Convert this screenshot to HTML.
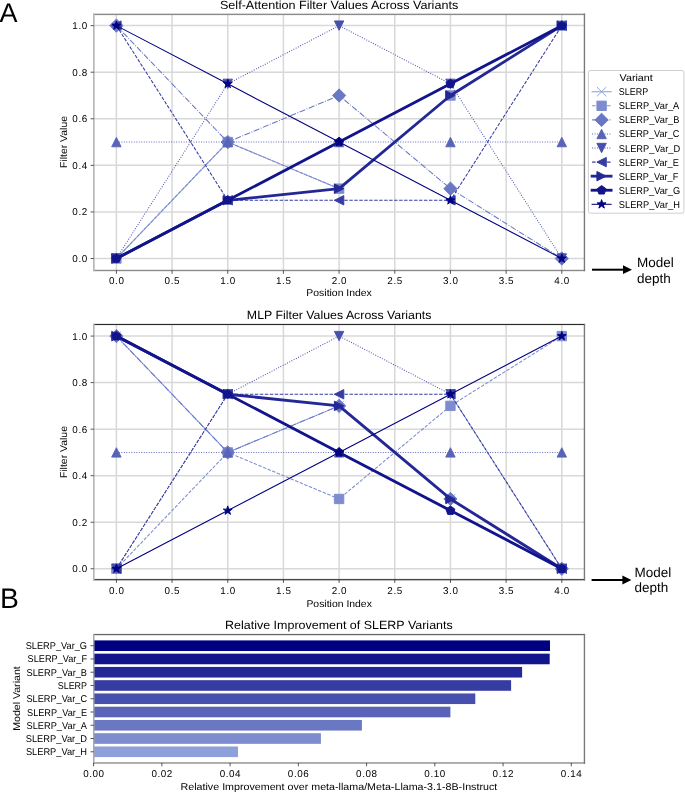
<!DOCTYPE html>
<html><head><meta charset="utf-8"><title>SLERP variants</title>
<style>html,body{margin:0;padding:0;background:#fff;}body{width:685px;height:792px;overflow:hidden;font-family:"Liberation Sans",sans-serif;}svg{display:block;will-change:transform;}</style>
</head><body>
<svg width="685" height="792" viewBox="0 0 685 792" font-family="Liberation Sans, sans-serif" text-rendering="geometricPrecision">
<defs><clipPath id="clip0"><rect x="93.8" y="14" width="490.6" height="256"/></clipPath><clipPath id="clip1"><rect x="93.8" y="324.3" width="490.7" height="255.5"/></clipPath></defs>
<rect width="685" height="792" fill="#fff"/>
<line x1="116.4" y1="14" x2="116.4" y2="270" stroke="#d8d8d8" stroke-width="1.5"/>
<line x1="172.07" y1="14" x2="172.07" y2="270" stroke="#d8d8d8" stroke-width="1.5"/>
<line x1="227.75" y1="14" x2="227.75" y2="270" stroke="#d8d8d8" stroke-width="1.5"/>
<line x1="283.42" y1="14" x2="283.42" y2="270" stroke="#d8d8d8" stroke-width="1.5"/>
<line x1="339.1" y1="14" x2="339.1" y2="270" stroke="#d8d8d8" stroke-width="1.5"/>
<line x1="394.77" y1="14" x2="394.77" y2="270" stroke="#d8d8d8" stroke-width="1.5"/>
<line x1="450.45" y1="14" x2="450.45" y2="270" stroke="#d8d8d8" stroke-width="1.5"/>
<line x1="506.12" y1="14" x2="506.12" y2="270" stroke="#d8d8d8" stroke-width="1.5"/>
<line x1="561.8" y1="14" x2="561.8" y2="270" stroke="#d8d8d8" stroke-width="1.5"/>
<line x1="93.8" y1="258.52" x2="584.4" y2="258.52" stroke="#d8d8d8" stroke-width="1.5"/>
<line x1="93.8" y1="211.94" x2="584.4" y2="211.94" stroke="#d8d8d8" stroke-width="1.5"/>
<line x1="93.8" y1="165.36" x2="584.4" y2="165.36" stroke="#d8d8d8" stroke-width="1.5"/>
<line x1="93.8" y1="118.78" x2="584.4" y2="118.78" stroke="#d8d8d8" stroke-width="1.5"/>
<line x1="93.8" y1="72.2" x2="584.4" y2="72.2" stroke="#d8d8d8" stroke-width="1.5"/>
<line x1="93.8" y1="25.62" x2="584.4" y2="25.62" stroke="#d8d8d8" stroke-width="1.5"/>
<g clip-path="url(#clip0)">
<polyline points="116.4,258.52 227.75,142.07 339.1,188.65 450.45,95.49 561.8,25.62" fill="none" stroke="#8ea0da" stroke-width="1.05" stroke-linejoin="round" stroke-linecap="square"/>
<path d="M111.7 263.22L121.1 253.82M111.7 253.82L121.1 263.22" stroke="#8ea0da" stroke-width="0.94" fill="none"/>
<path d="M223.05 146.77L232.45 137.37M223.05 137.37L232.45 146.77" stroke="#8ea0da" stroke-width="0.94" fill="none"/>
<path d="M334.4 193.35L343.8 183.95M334.4 183.95L343.8 193.35" stroke="#8ea0da" stroke-width="0.94" fill="none"/>
<path d="M445.75 100.19L455.15 90.79M445.75 90.79L455.15 100.19" stroke="#8ea0da" stroke-width="0.94" fill="none"/>
<path d="M557.1 30.32L566.5 20.92M557.1 20.92L566.5 30.32" stroke="#8ea0da" stroke-width="0.94" fill="none"/>
<polyline points="116.4,258.52 227.75,142.07 339.1,188.65 450.45,95.49 561.8,25.62" fill="none" stroke="#7c8ccf" stroke-width="1.05" stroke-linejoin="round" stroke-linecap="butt" stroke-dasharray="3.48,1.5"/>
<polygon points="111.7,263.22 121.1,263.22 121.1,253.82 111.7,253.82" fill="#7c8ccf" stroke="#7c8ccf" stroke-width="0.94" stroke-linejoin="miter"/>
<polygon points="223.05,146.77 232.45,146.77 232.45,137.37 223.05,137.37" fill="#7c8ccf" stroke="#7c8ccf" stroke-width="0.94" stroke-linejoin="miter"/>
<polygon points="334.4,193.35 343.8,193.35 343.8,183.95 334.4,183.95" fill="#7c8ccf" stroke="#7c8ccf" stroke-width="0.94" stroke-linejoin="miter"/>
<polygon points="445.75,100.19 455.15,100.19 455.15,90.79 445.75,90.79" fill="#7c8ccf" stroke="#7c8ccf" stroke-width="0.94" stroke-linejoin="miter"/>
<polygon points="557.1,30.32 566.5,30.32 566.5,20.92 557.1,20.92" fill="#7c8ccf" stroke="#7c8ccf" stroke-width="0.94" stroke-linejoin="miter"/>
<polyline points="116.4,25.62 227.75,142.07 339.1,95.49 450.45,188.65 561.8,258.52" fill="none" stroke="#6a78c4" stroke-width="1.05" stroke-linejoin="round" stroke-linecap="butt" stroke-dasharray="6.02,1.5,0.94,1.5"/>
<polygon points="116.4,32.27 123.05,25.62 116.4,18.97 109.75,25.62" fill="#6a78c4" stroke="#6a78c4" stroke-width="0.94" stroke-linejoin="miter"/>
<polygon points="227.75,148.72 234.4,142.07 227.75,135.42 221.1,142.07" fill="#6a78c4" stroke="#6a78c4" stroke-width="0.94" stroke-linejoin="miter"/>
<polygon points="339.1,102.14 345.75,95.49 339.1,88.84 332.45,95.49" fill="#6a78c4" stroke="#6a78c4" stroke-width="0.94" stroke-linejoin="miter"/>
<polygon points="450.45,195.3 457.1,188.65 450.45,182 443.8,188.65" fill="#6a78c4" stroke="#6a78c4" stroke-width="0.94" stroke-linejoin="miter"/>
<polygon points="561.8,265.17 568.45,258.52 561.8,251.87 555.15,258.52" fill="#6a78c4" stroke="#6a78c4" stroke-width="0.94" stroke-linejoin="miter"/>
<polyline points="116.4,142.07 227.75,142.07 339.1,142.07 450.45,142.07 561.8,142.07" fill="none" stroke="#5964b8" stroke-width="1.05" stroke-linejoin="round" stroke-linecap="butt" stroke-dasharray="0.94,1.55"/>
<polygon points="116.4,137.37 111.7,146.77 121.1,146.77" fill="#5964b8" stroke="#5964b8" stroke-width="0.94" stroke-linejoin="miter"/>
<polygon points="227.75,137.37 223.05,146.77 232.45,146.77" fill="#5964b8" stroke="#5964b8" stroke-width="0.94" stroke-linejoin="miter"/>
<polygon points="339.1,137.37 334.4,146.77 343.8,146.77" fill="#5964b8" stroke="#5964b8" stroke-width="0.94" stroke-linejoin="miter"/>
<polygon points="450.45,137.37 445.75,146.77 455.15,146.77" fill="#5964b8" stroke="#5964b8" stroke-width="0.94" stroke-linejoin="miter"/>
<polygon points="561.8,137.37 557.1,146.77 566.5,146.77" fill="#5964b8" stroke="#5964b8" stroke-width="0.94" stroke-linejoin="miter"/>
<polyline points="116.4,258.52 227.75,83.84 339.1,25.62 450.45,83.84 561.8,258.52" fill="none" stroke="#4750ad" stroke-width="1.05" stroke-linejoin="round" stroke-linecap="butt" stroke-dasharray="0.94,1.55"/>
<polygon points="116.4,263.22 111.7,253.82 121.1,253.82" fill="#4750ad" stroke="#4750ad" stroke-width="0.94" stroke-linejoin="miter"/>
<polygon points="227.75,88.54 223.05,79.14 232.45,79.14" fill="#4750ad" stroke="#4750ad" stroke-width="0.94" stroke-linejoin="miter"/>
<polygon points="339.1,30.32 334.4,20.92 343.8,20.92" fill="#4750ad" stroke="#4750ad" stroke-width="0.94" stroke-linejoin="miter"/>
<polygon points="450.45,88.54 445.75,79.14 455.15,79.14" fill="#4750ad" stroke="#4750ad" stroke-width="0.94" stroke-linejoin="miter"/>
<polygon points="561.8,263.22 557.1,253.82 566.5,253.82" fill="#4750ad" stroke="#4750ad" stroke-width="0.94" stroke-linejoin="miter"/>
<polyline points="116.4,25.62 227.75,200.29 339.1,200.29 450.45,200.29 561.8,25.62" fill="none" stroke="#353ca2" stroke-width="1.05" stroke-linejoin="round" stroke-linecap="butt" stroke-dasharray="3.48,1.5"/>
<polygon points="111.7,25.62 121.1,30.32 121.1,20.92" fill="#353ca2" stroke="#353ca2" stroke-width="0.94" stroke-linejoin="miter"/>
<polygon points="223.05,200.29 232.45,204.99 232.45,195.59" fill="#353ca2" stroke="#353ca2" stroke-width="0.94" stroke-linejoin="miter"/>
<polygon points="334.4,200.29 343.8,204.99 343.8,195.59" fill="#353ca2" stroke="#353ca2" stroke-width="0.94" stroke-linejoin="miter"/>
<polygon points="445.75,200.29 455.15,204.99 455.15,195.59" fill="#353ca2" stroke="#353ca2" stroke-width="0.94" stroke-linejoin="miter"/>
<polygon points="557.1,25.62 566.5,30.32 566.5,20.92" fill="#353ca2" stroke="#353ca2" stroke-width="0.94" stroke-linejoin="miter"/>
<polyline points="116.4,258.52 227.75,200.29 339.1,188.65 450.45,95.49 561.8,25.62" fill="none" stroke="#242896" stroke-width="2.82" stroke-linejoin="round" stroke-linecap="square"/>
<polygon points="121.1,258.52 111.7,253.82 111.7,263.22" fill="#242896" stroke="#242896" stroke-width="0.94" stroke-linejoin="miter"/>
<polygon points="232.45,200.29 223.05,195.59 223.05,204.99" fill="#242896" stroke="#242896" stroke-width="0.94" stroke-linejoin="miter"/>
<polygon points="343.8,188.65 334.4,183.95 334.4,193.35" fill="#242896" stroke="#242896" stroke-width="0.94" stroke-linejoin="miter"/>
<polygon points="455.15,95.49 445.75,90.79 445.75,100.19" fill="#242896" stroke="#242896" stroke-width="0.94" stroke-linejoin="miter"/>
<polygon points="566.5,25.62 557.1,20.92 557.1,30.32" fill="#242896" stroke="#242896" stroke-width="0.94" stroke-linejoin="miter"/>
<polyline points="116.4,258.52 227.75,200.29 339.1,142.07 450.45,83.84 561.8,25.62" fill="none" stroke="#12148b" stroke-width="2.82" stroke-linejoin="round" stroke-linecap="square"/>
<polygon points="116.4,253.82 111.93,257.07 113.64,262.32 119.16,262.32 120.87,257.07" fill="#12148b" stroke="#12148b" stroke-width="0.94" stroke-linejoin="miter"/>
<polygon points="227.75,195.59 223.28,198.84 224.99,204.1 230.51,204.1 232.22,198.84" fill="#12148b" stroke="#12148b" stroke-width="0.94" stroke-linejoin="miter"/>
<polygon points="339.1,137.37 334.63,140.62 336.34,145.87 341.86,145.87 343.57,140.62" fill="#12148b" stroke="#12148b" stroke-width="0.94" stroke-linejoin="miter"/>
<polygon points="450.45,79.14 445.98,82.39 447.69,87.65 453.21,87.65 454.92,82.39" fill="#12148b" stroke="#12148b" stroke-width="0.94" stroke-linejoin="miter"/>
<polygon points="561.8,20.92 557.33,24.17 559.04,29.42 564.56,29.42 566.27,24.17" fill="#12148b" stroke="#12148b" stroke-width="0.94" stroke-linejoin="miter"/>
<polyline points="116.4,25.62 227.75,83.84 339.1,142.07 450.45,200.29 561.8,258.52" fill="none" stroke="#000080" stroke-width="1.05" stroke-linejoin="round" stroke-linecap="square"/>
<polygon points="116.4,20.92 115.34,24.17 111.93,24.17 114.69,26.17 113.64,29.42 116.4,27.42 119.16,29.42 118.11,26.17 120.87,24.17 117.46,24.17" fill="#000080" stroke="#000080" stroke-width="0.94" stroke-linejoin="miter"/>
<polygon points="227.75,79.14 226.69,82.39 223.28,82.39 226.04,84.4 224.99,87.65 227.75,85.64 230.51,87.65 229.46,84.4 232.22,82.39 228.81,82.39" fill="#000080" stroke="#000080" stroke-width="0.94" stroke-linejoin="miter"/>
<polygon points="339.1,137.37 338.04,140.62 334.63,140.62 337.39,142.62 336.34,145.87 339.1,143.87 341.86,145.87 340.81,142.62 343.57,140.62 340.16,140.62" fill="#000080" stroke="#000080" stroke-width="0.94" stroke-linejoin="miter"/>
<polygon points="450.45,195.59 449.39,198.84 445.98,198.84 448.74,200.85 447.69,204.1 450.45,202.09 453.21,204.1 452.16,200.85 454.92,198.84 451.51,198.84" fill="#000080" stroke="#000080" stroke-width="0.94" stroke-linejoin="miter"/>
<polygon points="561.8,253.82 560.74,257.07 557.33,257.07 560.09,259.07 559.04,262.32 561.8,260.32 564.56,262.32 563.51,259.07 566.27,257.07 562.86,257.07" fill="#000080" stroke="#000080" stroke-width="0.94" stroke-linejoin="miter"/>
</g>
<rect x="93" y="13.67" width="492.1" height="1.42" fill="#8a8a8a"/>
<rect x="93" y="269.79" width="492.1" height="1.38" fill="#8a8a8a"/>
<rect x="93" y="13.6" width="1.68" height="257.6" fill="#b8b8b8"/>
<rect x="583.75" y="13.6" width="1.37" height="257.6" fill="#787878"/>
<line x1="116.4" y1="270.48" x2="116.4" y2="273.77" stroke="#222" stroke-width="0.75"/>
<text x="116.4" y="283.65" font-size="9.87" text-anchor="middle" textLength="14.95" lengthAdjust="spacing" fill="#000">0.0</text>
<line x1="172.07" y1="270.48" x2="172.07" y2="273.77" stroke="#222" stroke-width="0.75"/>
<text x="172.07" y="283.65" font-size="9.87" text-anchor="middle" textLength="14.95" lengthAdjust="spacing" fill="#000">0.5</text>
<line x1="227.75" y1="270.48" x2="227.75" y2="273.77" stroke="#222" stroke-width="0.75"/>
<text x="227.75" y="283.65" font-size="9.87" text-anchor="middle" textLength="14.95" lengthAdjust="spacing" fill="#000">1.0</text>
<line x1="283.42" y1="270.48" x2="283.42" y2="273.77" stroke="#222" stroke-width="0.75"/>
<text x="283.42" y="283.65" font-size="9.87" text-anchor="middle" textLength="14.95" lengthAdjust="spacing" fill="#000">1.5</text>
<line x1="339.1" y1="270.48" x2="339.1" y2="273.77" stroke="#222" stroke-width="0.75"/>
<text x="339.1" y="283.65" font-size="9.87" text-anchor="middle" textLength="14.95" lengthAdjust="spacing" fill="#000">2.0</text>
<line x1="394.77" y1="270.48" x2="394.77" y2="273.77" stroke="#222" stroke-width="0.75"/>
<text x="394.77" y="283.65" font-size="9.87" text-anchor="middle" textLength="14.95" lengthAdjust="spacing" fill="#000">2.5</text>
<line x1="450.45" y1="270.48" x2="450.45" y2="273.77" stroke="#222" stroke-width="0.75"/>
<text x="450.45" y="283.65" font-size="9.87" text-anchor="middle" textLength="14.95" lengthAdjust="spacing" fill="#000">3.0</text>
<line x1="506.12" y1="270.48" x2="506.12" y2="273.77" stroke="#222" stroke-width="0.75"/>
<text x="506.12" y="283.65" font-size="9.87" text-anchor="middle" textLength="14.95" lengthAdjust="spacing" fill="#000">3.5</text>
<line x1="561.8" y1="270.48" x2="561.8" y2="273.77" stroke="#222" stroke-width="0.75"/>
<text x="561.8" y="283.65" font-size="9.87" text-anchor="middle" textLength="14.95" lengthAdjust="spacing" fill="#000">4.0</text>
<line x1="90.55" y1="258.52" x2="93.84" y2="258.52" stroke="#222" stroke-width="0.75"/>
<text x="87.25" y="262.02" font-size="9.87" text-anchor="end" textLength="14.95" lengthAdjust="spacing" fill="#000">0.0</text>
<line x1="90.55" y1="211.94" x2="93.84" y2="211.94" stroke="#222" stroke-width="0.75"/>
<text x="87.25" y="215.44" font-size="9.87" text-anchor="end" textLength="14.95" lengthAdjust="spacing" fill="#000">0.2</text>
<line x1="90.55" y1="165.36" x2="93.84" y2="165.36" stroke="#222" stroke-width="0.75"/>
<text x="87.25" y="168.86" font-size="9.87" text-anchor="end" textLength="14.95" lengthAdjust="spacing" fill="#000">0.4</text>
<line x1="90.55" y1="118.78" x2="93.84" y2="118.78" stroke="#222" stroke-width="0.75"/>
<text x="87.25" y="122.28" font-size="9.87" text-anchor="end" textLength="14.95" lengthAdjust="spacing" fill="#000">0.6</text>
<line x1="90.55" y1="72.2" x2="93.84" y2="72.2" stroke="#222" stroke-width="0.75"/>
<text x="87.25" y="75.7" font-size="9.87" text-anchor="end" textLength="14.95" lengthAdjust="spacing" fill="#000">0.8</text>
<line x1="90.55" y1="25.62" x2="93.84" y2="25.62" stroke="#222" stroke-width="0.75"/>
<text x="87.25" y="29.12" font-size="9.87" text-anchor="end" textLength="14.95" lengthAdjust="spacing" fill="#000">1.0</text>
<text x="339.1" y="9" font-size="11.84" text-anchor="middle" textLength="238.25" lengthAdjust="spacingAndGlyphs" fill="#000">Self-Attention Filter Values Across Variants</text>
<text x="339.1" y="296.3" font-size="9.87" text-anchor="middle" textLength="65.47" lengthAdjust="spacingAndGlyphs" fill="#000">Position Index</text>
<text x="67" y="142" font-size="9.87" text-anchor="middle" textLength="52.08" lengthAdjust="spacingAndGlyphs" transform="rotate(-90 67 142)" fill="#000">Filter Value</text>
<line x1="116.4" y1="324.3" x2="116.4" y2="579.8" stroke="#d8d8d8" stroke-width="1.5"/>
<line x1="172.07" y1="324.3" x2="172.07" y2="579.8" stroke="#d8d8d8" stroke-width="1.5"/>
<line x1="227.75" y1="324.3" x2="227.75" y2="579.8" stroke="#d8d8d8" stroke-width="1.5"/>
<line x1="283.42" y1="324.3" x2="283.42" y2="579.8" stroke="#d8d8d8" stroke-width="1.5"/>
<line x1="339.1" y1="324.3" x2="339.1" y2="579.8" stroke="#d8d8d8" stroke-width="1.5"/>
<line x1="394.77" y1="324.3" x2="394.77" y2="579.8" stroke="#d8d8d8" stroke-width="1.5"/>
<line x1="450.45" y1="324.3" x2="450.45" y2="579.8" stroke="#d8d8d8" stroke-width="1.5"/>
<line x1="506.12" y1="324.3" x2="506.12" y2="579.8" stroke="#d8d8d8" stroke-width="1.5"/>
<line x1="561.8" y1="324.3" x2="561.8" y2="579.8" stroke="#d8d8d8" stroke-width="1.5"/>
<line x1="93.8" y1="568.75" x2="584.5" y2="568.75" stroke="#d8d8d8" stroke-width="1.5"/>
<line x1="93.8" y1="522.22" x2="584.5" y2="522.22" stroke="#d8d8d8" stroke-width="1.5"/>
<line x1="93.8" y1="475.68" x2="584.5" y2="475.68" stroke="#d8d8d8" stroke-width="1.5"/>
<line x1="93.8" y1="429.15" x2="584.5" y2="429.15" stroke="#d8d8d8" stroke-width="1.5"/>
<line x1="93.8" y1="382.61" x2="584.5" y2="382.61" stroke="#d8d8d8" stroke-width="1.5"/>
<line x1="93.8" y1="336.08" x2="584.5" y2="336.08" stroke="#d8d8d8" stroke-width="1.5"/>
<g clip-path="url(#clip1)">
<polyline points="116.4,336.08 227.75,452.42 339.1,405.88 450.45,498.95 561.8,568.75" fill="none" stroke="#8ea0da" stroke-width="1.05" stroke-linejoin="round" stroke-linecap="square"/>
<path d="M111.7 340.78L121.1 331.38M111.7 331.38L121.1 340.78" stroke="#8ea0da" stroke-width="0.94" fill="none"/>
<path d="M223.05 457.12L232.45 447.72M223.05 447.72L232.45 457.12" stroke="#8ea0da" stroke-width="0.94" fill="none"/>
<path d="M334.4 410.58L343.8 401.18M334.4 401.18L343.8 410.58" stroke="#8ea0da" stroke-width="0.94" fill="none"/>
<path d="M445.75 503.65L455.15 494.25M445.75 494.25L455.15 503.65" stroke="#8ea0da" stroke-width="0.94" fill="none"/>
<path d="M557.1 573.45L566.5 564.05M557.1 564.05L566.5 573.45" stroke="#8ea0da" stroke-width="0.94" fill="none"/>
<polyline points="116.4,568.75 227.75,452.42 339.1,498.95 450.45,405.88 561.8,336.08" fill="none" stroke="#7c8ccf" stroke-width="1.05" stroke-linejoin="round" stroke-linecap="butt" stroke-dasharray="3.48,1.5"/>
<polygon points="111.7,573.45 121.1,573.45 121.1,564.05 111.7,564.05" fill="#7c8ccf" stroke="#7c8ccf" stroke-width="0.94" stroke-linejoin="miter"/>
<polygon points="223.05,457.12 232.45,457.12 232.45,447.72 223.05,447.72" fill="#7c8ccf" stroke="#7c8ccf" stroke-width="0.94" stroke-linejoin="miter"/>
<polygon points="334.4,503.65 343.8,503.65 343.8,494.25 334.4,494.25" fill="#7c8ccf" stroke="#7c8ccf" stroke-width="0.94" stroke-linejoin="miter"/>
<polygon points="445.75,410.58 455.15,410.58 455.15,401.18 445.75,401.18" fill="#7c8ccf" stroke="#7c8ccf" stroke-width="0.94" stroke-linejoin="miter"/>
<polygon points="557.1,340.78 566.5,340.78 566.5,331.38 557.1,331.38" fill="#7c8ccf" stroke="#7c8ccf" stroke-width="0.94" stroke-linejoin="miter"/>
<polyline points="116.4,336.08 227.75,452.42 339.1,405.88 450.45,498.95 561.8,568.75" fill="none" stroke="#6a78c4" stroke-width="1.05" stroke-linejoin="round" stroke-linecap="butt" stroke-dasharray="6.02,1.5,0.94,1.5"/>
<polygon points="116.4,342.73 123.05,336.08 116.4,329.43 109.75,336.08" fill="#6a78c4" stroke="#6a78c4" stroke-width="0.94" stroke-linejoin="miter"/>
<polygon points="227.75,459.06 234.4,452.42 227.75,445.77 221.1,452.42" fill="#6a78c4" stroke="#6a78c4" stroke-width="0.94" stroke-linejoin="miter"/>
<polygon points="339.1,412.53 345.75,405.88 339.1,399.23 332.45,405.88" fill="#6a78c4" stroke="#6a78c4" stroke-width="0.94" stroke-linejoin="miter"/>
<polygon points="450.45,505.6 457.1,498.95 450.45,492.3 443.8,498.95" fill="#6a78c4" stroke="#6a78c4" stroke-width="0.94" stroke-linejoin="miter"/>
<polygon points="561.8,575.4 568.45,568.75 561.8,562.1 555.15,568.75" fill="#6a78c4" stroke="#6a78c4" stroke-width="0.94" stroke-linejoin="miter"/>
<polyline points="116.4,452.42 227.75,452.42 339.1,452.42 450.45,452.42 561.8,452.42" fill="none" stroke="#5964b8" stroke-width="1.05" stroke-linejoin="round" stroke-linecap="butt" stroke-dasharray="0.94,1.55"/>
<polygon points="116.4,447.72 111.7,457.12 121.1,457.12" fill="#5964b8" stroke="#5964b8" stroke-width="0.94" stroke-linejoin="miter"/>
<polygon points="227.75,447.72 223.05,457.12 232.45,457.12" fill="#5964b8" stroke="#5964b8" stroke-width="0.94" stroke-linejoin="miter"/>
<polygon points="339.1,447.72 334.4,457.12 343.8,457.12" fill="#5964b8" stroke="#5964b8" stroke-width="0.94" stroke-linejoin="miter"/>
<polygon points="450.45,447.72 445.75,457.12 455.15,457.12" fill="#5964b8" stroke="#5964b8" stroke-width="0.94" stroke-linejoin="miter"/>
<polygon points="561.8,447.72 557.1,457.12 566.5,457.12" fill="#5964b8" stroke="#5964b8" stroke-width="0.94" stroke-linejoin="miter"/>
<polyline points="116.4,568.75 227.75,394.25 339.1,336.08 450.45,394.25 561.8,568.75" fill="none" stroke="#4750ad" stroke-width="1.05" stroke-linejoin="round" stroke-linecap="butt" stroke-dasharray="0.94,1.55"/>
<polygon points="116.4,573.45 111.7,564.05 121.1,564.05" fill="#4750ad" stroke="#4750ad" stroke-width="0.94" stroke-linejoin="miter"/>
<polygon points="227.75,398.95 223.05,389.55 232.45,389.55" fill="#4750ad" stroke="#4750ad" stroke-width="0.94" stroke-linejoin="miter"/>
<polygon points="339.1,340.78 334.4,331.38 343.8,331.38" fill="#4750ad" stroke="#4750ad" stroke-width="0.94" stroke-linejoin="miter"/>
<polygon points="450.45,398.95 445.75,389.55 455.15,389.55" fill="#4750ad" stroke="#4750ad" stroke-width="0.94" stroke-linejoin="miter"/>
<polygon points="561.8,573.45 557.1,564.05 566.5,564.05" fill="#4750ad" stroke="#4750ad" stroke-width="0.94" stroke-linejoin="miter"/>
<polyline points="116.4,568.75 227.75,394.25 339.1,394.25 450.45,394.25 561.8,568.75" fill="none" stroke="#353ca2" stroke-width="1.05" stroke-linejoin="round" stroke-linecap="butt" stroke-dasharray="3.48,1.5"/>
<polygon points="111.7,568.75 121.1,573.45 121.1,564.05" fill="#353ca2" stroke="#353ca2" stroke-width="0.94" stroke-linejoin="miter"/>
<polygon points="223.05,394.25 232.45,398.95 232.45,389.55" fill="#353ca2" stroke="#353ca2" stroke-width="0.94" stroke-linejoin="miter"/>
<polygon points="334.4,394.25 343.8,398.95 343.8,389.55" fill="#353ca2" stroke="#353ca2" stroke-width="0.94" stroke-linejoin="miter"/>
<polygon points="445.75,394.25 455.15,398.95 455.15,389.55" fill="#353ca2" stroke="#353ca2" stroke-width="0.94" stroke-linejoin="miter"/>
<polygon points="557.1,568.75 566.5,573.45 566.5,564.05" fill="#353ca2" stroke="#353ca2" stroke-width="0.94" stroke-linejoin="miter"/>
<polyline points="116.4,336.08 227.75,394.25 339.1,405.88 450.45,498.95 561.8,568.75" fill="none" stroke="#242896" stroke-width="2.82" stroke-linejoin="round" stroke-linecap="square"/>
<polygon points="121.1,336.08 111.7,331.38 111.7,340.78" fill="#242896" stroke="#242896" stroke-width="0.94" stroke-linejoin="miter"/>
<polygon points="232.45,394.25 223.05,389.55 223.05,398.95" fill="#242896" stroke="#242896" stroke-width="0.94" stroke-linejoin="miter"/>
<polygon points="343.8,405.88 334.4,401.18 334.4,410.58" fill="#242896" stroke="#242896" stroke-width="0.94" stroke-linejoin="miter"/>
<polygon points="455.15,498.95 445.75,494.25 445.75,503.65" fill="#242896" stroke="#242896" stroke-width="0.94" stroke-linejoin="miter"/>
<polygon points="566.5,568.75 557.1,564.05 557.1,573.45" fill="#242896" stroke="#242896" stroke-width="0.94" stroke-linejoin="miter"/>
<polyline points="116.4,336.08 227.75,394.25 339.1,452.42 450.45,510.58 561.8,568.75" fill="none" stroke="#12148b" stroke-width="2.82" stroke-linejoin="round" stroke-linecap="square"/>
<polygon points="116.4,331.38 111.93,334.63 113.64,339.88 119.16,339.88 120.87,334.63" fill="#12148b" stroke="#12148b" stroke-width="0.94" stroke-linejoin="miter"/>
<polygon points="227.75,389.55 223.28,392.8 224.99,398.05 230.51,398.05 232.22,392.8" fill="#12148b" stroke="#12148b" stroke-width="0.94" stroke-linejoin="miter"/>
<polygon points="339.1,447.72 334.63,450.96 336.34,456.22 341.86,456.22 343.57,450.96" fill="#12148b" stroke="#12148b" stroke-width="0.94" stroke-linejoin="miter"/>
<polygon points="450.45,505.88 445.98,509.13 447.69,514.38 453.21,514.38 454.92,509.13" fill="#12148b" stroke="#12148b" stroke-width="0.94" stroke-linejoin="miter"/>
<polygon points="561.8,564.05 557.33,567.3 559.04,572.55 564.56,572.55 566.27,567.3" fill="#12148b" stroke="#12148b" stroke-width="0.94" stroke-linejoin="miter"/>
<polyline points="116.4,568.75 227.75,510.58 339.1,452.42 450.45,394.25 561.8,336.08" fill="none" stroke="#000080" stroke-width="1.05" stroke-linejoin="round" stroke-linecap="square"/>
<polygon points="116.4,564.05 115.34,567.3 111.93,567.3 114.69,569.3 113.64,572.55 116.4,570.55 119.16,572.55 118.11,569.3 120.87,567.3 117.46,567.3" fill="#000080" stroke="#000080" stroke-width="0.94" stroke-linejoin="miter"/>
<polygon points="227.75,505.88 226.69,509.13 223.28,509.13 226.04,511.14 224.99,514.38 227.75,512.38 230.51,514.38 229.46,511.14 232.22,509.13 228.81,509.13" fill="#000080" stroke="#000080" stroke-width="0.94" stroke-linejoin="miter"/>
<polygon points="339.1,447.72 338.04,450.96 334.63,450.96 337.39,452.97 336.34,456.22 339.1,454.21 341.86,456.22 340.81,452.97 343.57,450.96 340.16,450.96" fill="#000080" stroke="#000080" stroke-width="0.94" stroke-linejoin="miter"/>
<polygon points="450.45,389.55 449.39,392.8 445.98,392.8 448.74,394.8 447.69,398.05 450.45,396.04 453.21,398.05 452.16,394.8 454.92,392.8 451.51,392.8" fill="#000080" stroke="#000080" stroke-width="0.94" stroke-linejoin="miter"/>
<polygon points="561.8,331.38 560.74,334.63 557.33,334.63 560.09,336.63 559.04,339.88 561.8,337.88 564.56,339.88 563.51,336.63 566.27,334.63 562.86,334.63" fill="#000080" stroke="#000080" stroke-width="0.94" stroke-linejoin="miter"/>
</g>
<rect x="93" y="323.89" width="492.1" height="1.18" fill="#2a2a2a"/>
<rect x="93" y="578.92" width="492.1" height="1.44" fill="#484848"/>
<rect x="93" y="323.8" width="1.68" height="256.6" fill="#b8b8b8"/>
<rect x="583.75" y="323.8" width="1.37" height="256.6" fill="#787878"/>
<line x1="116.4" y1="579.64" x2="116.4" y2="582.93" stroke="#222" stroke-width="0.75"/>
<text x="116.4" y="593.95" font-size="9.87" text-anchor="middle" textLength="14.95" lengthAdjust="spacing" fill="#000">0.0</text>
<line x1="172.07" y1="579.64" x2="172.07" y2="582.93" stroke="#222" stroke-width="0.75"/>
<text x="172.07" y="593.95" font-size="9.87" text-anchor="middle" textLength="14.95" lengthAdjust="spacing" fill="#000">0.5</text>
<line x1="227.75" y1="579.64" x2="227.75" y2="582.93" stroke="#222" stroke-width="0.75"/>
<text x="227.75" y="593.95" font-size="9.87" text-anchor="middle" textLength="14.95" lengthAdjust="spacing" fill="#000">1.0</text>
<line x1="283.42" y1="579.64" x2="283.42" y2="582.93" stroke="#222" stroke-width="0.75"/>
<text x="283.42" y="593.95" font-size="9.87" text-anchor="middle" textLength="14.95" lengthAdjust="spacing" fill="#000">1.5</text>
<line x1="339.1" y1="579.64" x2="339.1" y2="582.93" stroke="#222" stroke-width="0.75"/>
<text x="339.1" y="593.95" font-size="9.87" text-anchor="middle" textLength="14.95" lengthAdjust="spacing" fill="#000">2.0</text>
<line x1="394.77" y1="579.64" x2="394.77" y2="582.93" stroke="#222" stroke-width="0.75"/>
<text x="394.77" y="593.95" font-size="9.87" text-anchor="middle" textLength="14.95" lengthAdjust="spacing" fill="#000">2.5</text>
<line x1="450.45" y1="579.64" x2="450.45" y2="582.93" stroke="#222" stroke-width="0.75"/>
<text x="450.45" y="593.95" font-size="9.87" text-anchor="middle" textLength="14.95" lengthAdjust="spacing" fill="#000">3.0</text>
<line x1="506.12" y1="579.64" x2="506.12" y2="582.93" stroke="#222" stroke-width="0.75"/>
<text x="506.12" y="593.95" font-size="9.87" text-anchor="middle" textLength="14.95" lengthAdjust="spacing" fill="#000">3.5</text>
<line x1="561.8" y1="579.64" x2="561.8" y2="582.93" stroke="#222" stroke-width="0.75"/>
<text x="561.8" y="593.95" font-size="9.87" text-anchor="middle" textLength="14.95" lengthAdjust="spacing" fill="#000">4.0</text>
<line x1="90.55" y1="568.75" x2="93.84" y2="568.75" stroke="#222" stroke-width="0.75"/>
<text x="87.25" y="572.25" font-size="9.87" text-anchor="end" textLength="14.95" lengthAdjust="spacing" fill="#000">0.0</text>
<line x1="90.55" y1="522.22" x2="93.84" y2="522.22" stroke="#222" stroke-width="0.75"/>
<text x="87.25" y="525.72" font-size="9.87" text-anchor="end" textLength="14.95" lengthAdjust="spacing" fill="#000">0.2</text>
<line x1="90.55" y1="475.68" x2="93.84" y2="475.68" stroke="#222" stroke-width="0.75"/>
<text x="87.25" y="479.18" font-size="9.87" text-anchor="end" textLength="14.95" lengthAdjust="spacing" fill="#000">0.4</text>
<line x1="90.55" y1="429.15" x2="93.84" y2="429.15" stroke="#222" stroke-width="0.75"/>
<text x="87.25" y="432.65" font-size="9.87" text-anchor="end" textLength="14.95" lengthAdjust="spacing" fill="#000">0.6</text>
<line x1="90.55" y1="382.61" x2="93.84" y2="382.61" stroke="#222" stroke-width="0.75"/>
<text x="87.25" y="386.11" font-size="9.87" text-anchor="end" textLength="14.95" lengthAdjust="spacing" fill="#000">0.8</text>
<line x1="90.55" y1="336.08" x2="93.84" y2="336.08" stroke="#222" stroke-width="0.75"/>
<text x="87.25" y="339.58" font-size="9.87" text-anchor="end" textLength="14.95" lengthAdjust="spacing" fill="#000">1.0</text>
<text x="339.15" y="318.7" font-size="11.84" text-anchor="middle" textLength="184.6" lengthAdjust="spacingAndGlyphs" fill="#000">MLP Filter Values Across Variants</text>
<text x="339.15" y="606.6" font-size="9.87" text-anchor="middle" textLength="65.47" lengthAdjust="spacingAndGlyphs" fill="#000">Position Index</text>
<text x="67" y="452.05" font-size="9.87" text-anchor="middle" textLength="52.08" lengthAdjust="spacingAndGlyphs" transform="rotate(-90 67 452.05)" fill="#000">Filter Value</text>
<rect x="588.4" y="70.5" width="95.55" height="142.7" rx="1.9" ry="1.9" fill="#fff" fill-opacity="0.8" stroke="#cccccc" stroke-width="0.94"/>
<text x="636.17" y="81.18" font-size="9.87" text-anchor="middle" textLength="33.34" lengthAdjust="spacingAndGlyphs" fill="#000">Variant</text>
<polyline points="592.1,91.75 611.1,91.75" fill="none" stroke="#8ea0da" stroke-width="1.05" stroke-linejoin="round" stroke-linecap="square"/>
<path d="M596.9 96.45L606.3 87.05M596.9 87.05L606.3 96.45" stroke="#8ea0da" stroke-width="0.94" fill="none"/>
<text x="618.8" y="95.25" font-size="9.87" text-anchor="start" textLength="29.34" lengthAdjust="spacingAndGlyphs" fill="#000">SLERP</text>
<polyline points="592.1,105.82 611.1,105.82" fill="none" stroke="#7c8ccf" stroke-width="1.05" stroke-linejoin="round" stroke-linecap="butt" stroke-dasharray="3.48,1.5"/>
<polygon points="596.9,110.52 606.3,110.52 606.3,101.12 596.9,101.12" fill="#7c8ccf" stroke="#7c8ccf" stroke-width="0.94" stroke-linejoin="miter"/>
<text x="618.8" y="109.32" font-size="9.87" text-anchor="start" textLength="60.5" lengthAdjust="spacingAndGlyphs" fill="#000">SLERP_Var_A</text>
<polyline points="592.1,119.89 611.1,119.89" fill="none" stroke="#6a78c4" stroke-width="1.05" stroke-linejoin="round" stroke-linecap="butt" stroke-dasharray="6.02,1.5,0.94,1.5"/>
<polygon points="601.6,126.54 608.25,119.89 601.6,113.24 594.95,119.89" fill="#6a78c4" stroke="#6a78c4" stroke-width="0.94" stroke-linejoin="miter"/>
<text x="618.8" y="123.39" font-size="9.87" text-anchor="start" textLength="60.52" lengthAdjust="spacingAndGlyphs" fill="#000">SLERP_Var_B</text>
<polyline points="592.1,133.96 611.1,133.96" fill="none" stroke="#5964b8" stroke-width="1.05" stroke-linejoin="round" stroke-linecap="butt" stroke-dasharray="0.94,1.55"/>
<polygon points="601.6,129.26 596.9,138.66 606.3,138.66" fill="#5964b8" stroke="#5964b8" stroke-width="0.94" stroke-linejoin="miter"/>
<text x="618.8" y="137.46" font-size="9.87" text-anchor="start" textLength="60.63" lengthAdjust="spacingAndGlyphs" fill="#000">SLERP_Var_C</text>
<polyline points="592.1,148.03 611.1,148.03" fill="none" stroke="#4750ad" stroke-width="1.05" stroke-linejoin="round" stroke-linecap="butt" stroke-dasharray="0.94,1.55"/>
<polygon points="601.6,152.73 596.9,143.33 606.3,143.33" fill="#4750ad" stroke="#4750ad" stroke-width="0.94" stroke-linejoin="miter"/>
<text x="618.8" y="151.53" font-size="9.87" text-anchor="start" textLength="61.31" lengthAdjust="spacingAndGlyphs" fill="#000">SLERP_Var_D</text>
<polyline points="592.1,162.1 611.1,162.1" fill="none" stroke="#353ca2" stroke-width="1.05" stroke-linejoin="round" stroke-linecap="butt" stroke-dasharray="3.48,1.5"/>
<polygon points="596.9,162.1 606.3,166.8 606.3,157.4" fill="#353ca2" stroke="#353ca2" stroke-width="0.94" stroke-linejoin="miter"/>
<text x="618.8" y="165.6" font-size="9.87" text-anchor="start" textLength="60.01" lengthAdjust="spacingAndGlyphs" fill="#000">SLERP_Var_E</text>
<polyline points="592.1,176.17 611.1,176.17" fill="none" stroke="#242896" stroke-width="2.82" stroke-linejoin="round" stroke-linecap="square"/>
<polygon points="606.3,176.17 596.9,171.47 596.9,180.87" fill="#242896" stroke="#242896" stroke-width="0.94" stroke-linejoin="miter"/>
<text x="618.8" y="179.67" font-size="9.87" text-anchor="start" textLength="59.48" lengthAdjust="spacingAndGlyphs" fill="#000">SLERP_Var_F</text>
<polyline points="592.1,190.24 611.1,190.24" fill="none" stroke="#12148b" stroke-width="2.82" stroke-linejoin="round" stroke-linecap="square"/>
<polygon points="601.6,185.54 597.13,188.79 598.84,194.04 604.36,194.04 606.07,188.79" fill="#12148b" stroke="#12148b" stroke-width="0.94" stroke-linejoin="miter"/>
<text x="618.8" y="193.74" font-size="9.87" text-anchor="start" textLength="61.35" lengthAdjust="spacingAndGlyphs" fill="#000">SLERP_Var_G</text>
<polyline points="592.1,204.31 611.1,204.31" fill="none" stroke="#000080" stroke-width="1.05" stroke-linejoin="round" stroke-linecap="square"/>
<polygon points="601.6,199.61 600.54,202.86 597.13,202.86 599.89,204.86 598.84,208.11 601.6,206.11 604.36,208.11 603.31,204.86 606.07,202.86 602.66,202.86" fill="#000080" stroke="#000080" stroke-width="0.94" stroke-linejoin="miter"/>
<text x="618.8" y="207.81" font-size="9.87" text-anchor="start" textLength="61.14" lengthAdjust="spacingAndGlyphs" fill="#000">SLERP_Var_H</text>
<rect x="93.6" y="640.4" width="456.4" height="10.61" fill="#000080"/>
<rect x="93.6" y="653.66" width="456.1" height="10.61" fill="#12148b"/>
<rect x="93.6" y="666.92" width="428.5" height="10.61" fill="#242896"/>
<rect x="93.6" y="680.18" width="417.5" height="10.61" fill="#353ca2"/>
<rect x="93.6" y="693.44" width="381.7" height="10.61" fill="#4750ad"/>
<rect x="93.6" y="706.7" width="356.8" height="10.61" fill="#5964b8"/>
<rect x="93.6" y="719.96" width="268.3" height="10.61" fill="#6a78c4"/>
<rect x="93.6" y="733.22" width="227.3" height="10.61" fill="#7c8ccf"/>
<rect x="93.6" y="746.48" width="144.4" height="10.61" fill="#8ea0da"/>
<rect x="93" y="633.9" width="492.1" height="1.3" fill="#666666"/>
<rect x="93" y="762.02" width="492.1" height="1.9" fill="#ababab"/>
<rect x="93" y="634" width="1.5" height="129.9" fill="#a8a8a8"/>
<rect x="583.75" y="633.9" width="1.37" height="130" fill="#787878"/>
<line x1="90.46" y1="645.7" x2="93.75" y2="645.7" stroke="#222" stroke-width="0.75"/>
<text x="87.05" y="649.2" font-size="9.87" text-anchor="end" textLength="61.35" lengthAdjust="spacingAndGlyphs" fill="#000">SLERP_Var_G</text>
<line x1="90.46" y1="658.96" x2="93.75" y2="658.96" stroke="#222" stroke-width="0.75"/>
<text x="87.05" y="662.46" font-size="9.87" text-anchor="end" textLength="59.48" lengthAdjust="spacingAndGlyphs" fill="#000">SLERP_Var_F</text>
<line x1="90.46" y1="672.22" x2="93.75" y2="672.22" stroke="#222" stroke-width="0.75"/>
<text x="87.05" y="675.72" font-size="9.87" text-anchor="end" textLength="60.52" lengthAdjust="spacingAndGlyphs" fill="#000">SLERP_Var_B</text>
<line x1="90.46" y1="685.48" x2="93.75" y2="685.48" stroke="#222" stroke-width="0.75"/>
<text x="87.05" y="688.98" font-size="9.87" text-anchor="end" textLength="29.34" lengthAdjust="spacingAndGlyphs" fill="#000">SLERP</text>
<line x1="90.46" y1="698.74" x2="93.75" y2="698.74" stroke="#222" stroke-width="0.75"/>
<text x="87.05" y="702.24" font-size="9.87" text-anchor="end" textLength="60.63" lengthAdjust="spacingAndGlyphs" fill="#000">SLERP_Var_C</text>
<line x1="90.46" y1="712" x2="93.75" y2="712" stroke="#222" stroke-width="0.75"/>
<text x="87.05" y="715.5" font-size="9.87" text-anchor="end" textLength="60.01" lengthAdjust="spacingAndGlyphs" fill="#000">SLERP_Var_E</text>
<line x1="90.46" y1="725.26" x2="93.75" y2="725.26" stroke="#222" stroke-width="0.75"/>
<text x="87.05" y="728.76" font-size="9.87" text-anchor="end" textLength="60.5" lengthAdjust="spacingAndGlyphs" fill="#000">SLERP_Var_A</text>
<line x1="90.46" y1="738.52" x2="93.75" y2="738.52" stroke="#222" stroke-width="0.75"/>
<text x="87.05" y="742.02" font-size="9.87" text-anchor="end" textLength="61.31" lengthAdjust="spacingAndGlyphs" fill="#000">SLERP_Var_D</text>
<line x1="90.46" y1="751.78" x2="93.75" y2="751.78" stroke="#222" stroke-width="0.75"/>
<text x="87.05" y="755.28" font-size="9.87" text-anchor="end" textLength="61.14" lengthAdjust="spacingAndGlyphs" fill="#000">SLERP_Var_H</text>
<line x1="93.6" y1="762.97" x2="93.6" y2="766.26" stroke="#222" stroke-width="0.75"/>
<text x="93.6" y="776.85" font-size="9.87" text-anchor="middle" textLength="20.93" lengthAdjust="spacing" fill="#000">0.00</text>
<line x1="161.84" y1="762.97" x2="161.84" y2="766.26" stroke="#222" stroke-width="0.75"/>
<text x="161.84" y="776.85" font-size="9.87" text-anchor="middle" textLength="20.93" lengthAdjust="spacing" fill="#000">0.02</text>
<line x1="230.09" y1="762.97" x2="230.09" y2="766.26" stroke="#222" stroke-width="0.75"/>
<text x="230.09" y="776.85" font-size="9.87" text-anchor="middle" textLength="20.93" lengthAdjust="spacing" fill="#000">0.04</text>
<line x1="298.33" y1="762.97" x2="298.33" y2="766.26" stroke="#222" stroke-width="0.75"/>
<text x="298.33" y="776.85" font-size="9.87" text-anchor="middle" textLength="20.93" lengthAdjust="spacing" fill="#000">0.06</text>
<line x1="366.57" y1="762.97" x2="366.57" y2="766.26" stroke="#222" stroke-width="0.75"/>
<text x="366.57" y="776.85" font-size="9.87" text-anchor="middle" textLength="20.93" lengthAdjust="spacing" fill="#000">0.08</text>
<line x1="434.81" y1="762.97" x2="434.81" y2="766.26" stroke="#222" stroke-width="0.75"/>
<text x="434.81" y="776.85" font-size="9.87" text-anchor="middle" textLength="20.93" lengthAdjust="spacing" fill="#000">0.10</text>
<line x1="503.06" y1="762.97" x2="503.06" y2="766.26" stroke="#222" stroke-width="0.75"/>
<text x="503.06" y="776.85" font-size="9.87" text-anchor="middle" textLength="20.93" lengthAdjust="spacing" fill="#000">0.12</text>
<line x1="571.3" y1="762.97" x2="571.3" y2="766.26" stroke="#222" stroke-width="0.75"/>
<text x="571.3" y="776.85" font-size="9.87" text-anchor="middle" textLength="20.93" lengthAdjust="spacing" fill="#000">0.14</text>
<text x="338.9" y="628.8" font-size="11.84" text-anchor="middle" textLength="227.68" lengthAdjust="spacingAndGlyphs" fill="#000">Relative Improvement of SLERP Variants</text>
<text x="338.9" y="789.5" font-size="9.87" text-anchor="middle" textLength="316.71" lengthAdjust="spacingAndGlyphs" fill="#000">Relative Improvement over meta-llama/Meta-Llama-3.1-8B-Instruct</text>
<text x="20.3" y="698.55" font-size="9.87" text-anchor="middle" textLength="64.55" lengthAdjust="spacingAndGlyphs" transform="rotate(-90 20.3 698.55)" fill="#000">Model Variant</text>
<text x="-0.4" y="21.7" font-size="27" text-anchor="start" fill="#000">A</text>
<text x="0" y="607.7" font-size="28.3" text-anchor="start" fill="#000">B</text>
<line x1="592" y1="269.7" x2="624" y2="269.7" stroke="#000" stroke-width="2"/>
<polygon points="632,269.7 623,265.3 623,274.1" fill="#000"/>
<text x="637" y="266.5" font-size="13.5" text-anchor="start" fill="#000">Model</text>
<text x="637" y="282.5" font-size="13.5" text-anchor="start" fill="#000">depth</text>
<line x1="591.6" y1="580" x2="623.4" y2="580" stroke="#000" stroke-width="2"/>
<polygon points="631.4,580 622.4,575.6 622.4,584.4" fill="#000"/>
<text x="634.5" y="576.5" font-size="13.5" text-anchor="start" fill="#000">Model</text>
<text x="634.5" y="592.4" font-size="13.5" text-anchor="start" fill="#000">depth</text>
</svg>
</body></html>
